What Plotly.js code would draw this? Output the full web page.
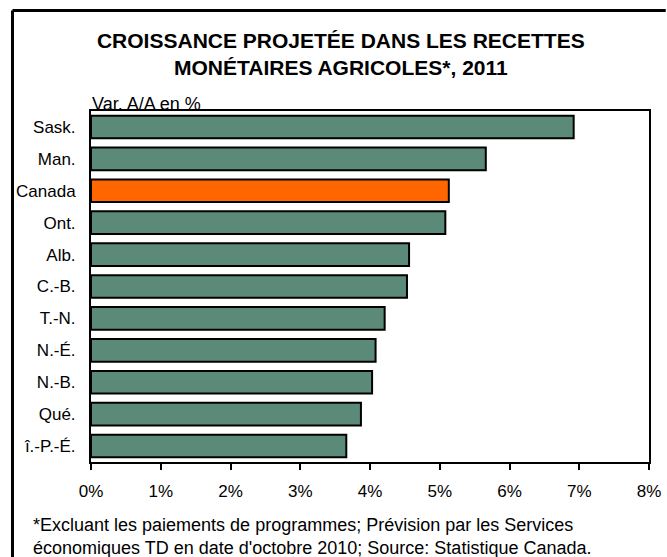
<!DOCTYPE html>
<html>
<head>
<meta charset="utf-8">
<script src="https://cdn.plot.ly/plotly-3.0.1.min.js"></script>
<style>html,body{margin:0;padding:0;background:#fff;overflow:hidden;}#chart{width:667px;height:557px;overflow:hidden;}</style>
</head>
<body>
<div id="chart"></div>
<script>
const categories = ["Sask.", "Man.", "Canada", "Ont.", "Alb.", "C.-B.", "T.-N.", "N.-É.", "N.-B.", "Qué.", "î.-P.-É."];
const growthPct = [6.92, 5.66, 5.13, 5.08, 4.56, 4.53, 4.21, 4.08, 4.03, 3.87, 3.66];
const highlight = "Canada";
const titleText = "CROISSANCE PROJETÉE DANS LES RECETTES<br>MONÉTAIRES AGRICOLES*, 2011";
const unitLabel = "Var. A/A en %";
const footnote = "*Excluant les paiements de programmes; Prévision par les Services<br>économiques TD en date d'octobre 2010; Source: Statistique Canada.";

const green = "#5B8A78", orange = "#FF6600";
const colors = categories.map(c => c === highlight ? orange : green);
const font = "Liberation Sans, Arial, sans-serif";

const trace = {
  type: "bar", orientation: "h",
  x: growthPct, y: categories,
  marker: {color: colors, line: {color: "#000", width: 2}},
  hoverinfo: "skip"
};

const layout = {
  width: 667, height: 557,
  margin: {l: 91, r: 18, t: 111, b: 95},
  paper_bgcolor: "#fff", plot_bgcolor: "#fff",
  font: {family: font, size: 17, color: "#000"},
  showlegend: false,
  bargap: 0.29,
  title: {text: titleText, font: {family: font, size: 21, weight: "bold", color: "#000"},
          xref: "container", x: 0.511, xanchor: "center", yref: "container", y: 0.914, yanchor: "middle"},
  xaxis: {range: [0, 8], dtick: 1, ticksuffix: "%", showgrid: false, zeroline: false,
          showline: true, linecolor: "#000", linewidth: 2, mirror: true,
          ticks: "outside", ticklen: 6, tickwidth: 2, tickcolor: "#000", ticklabelstandoff: 7,
          tickfont: {size: 17}},
  yaxis: {autorange: "reversed", showgrid: false, zeroline: false,
          showline: true, linecolor: "#000", linewidth: 2, mirror: true,
          ticks: "", ticklabelstandoff: 10, tickfont: {size: 17}},
  annotations: [
    {text: unitLabel, xref: "paper", yref: "paper", x: 0, y: 1, xanchor: "left", yanchor: "bottom",
     showarrow: false, font: {size: 18}, xshift: -1, yshift: -5},
    {text: footnote, xref: "paper", yref: "paper", x: -0.107, y: -0.146, xanchor: "left", yanchor: "top",
     align: "left", showarrow: false, font: {size: 18}}
  ],
  shapes: [
    {type: "line", xref: "paper", yref: "paper", x0: -0.1407, x1: -0.1407, y0: -0.2707, y1: 1.2863,
     line: {color: "#000", width: 3}, layer: "above"},
    {type: "line", xref: "paper", yref: "paper", x0: -0.1407, x1: 1.03, y0: 1.2863, y1: 1.2863,
     line: {color: "#000", width: 3}, layer: "above"}
  ]
};

Plotly.newPlot("chart", [trace], layout, {staticPlot: true, displayModeBar: false});
</script>
</body>
</html>
